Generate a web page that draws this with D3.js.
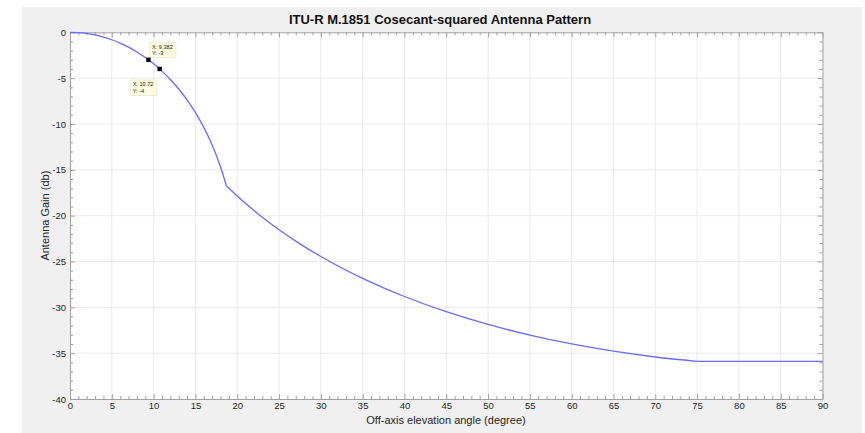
<!DOCTYPE html>
<html>
<head>
<meta charset="utf-8">
<script src="https://cdn.jsdelivr.net/npm/d3@7"></script>
<style>
  html, body { margin: 0; padding: 0; background: #ffffff; }
  svg { display: block; font-family: "Liberation Sans", Arial, sans-serif; }
</style>
</head>
<body>
<svg id="chart" width="865" height="433"></svg>
<script>
// ---- data ----
const mainLobeAngle = [0, 1, 2, 3, 4, 5, 6, 7, 8, 9, 10, 11, 12, 13, 14, 15, 16, 17, 18, 18.7];
const mainLobeGain  = [0, -0.032, -0.128, -0.290, -0.518, -0.814, -1.181, -1.622, -2.142, -2.745,
                       -3.441, -4.237, -5.146, -6.185, -7.377, -8.755, -10.367, -12.294, -14.671, -16.737];
const cscAngle = [18.7, 20, 22.5, 25, 27.5, 30, 32.5, 35, 37.5, 40, 45, 50, 55, 60, 65, 70, 75];
const cscGain  = [-16.737, -17.860, -19.811, -21.535, -23.074, -24.456, -25.706, -26.841, -27.875,
                  -28.820, -30.477, -31.867, -33.032, -33.999, -34.789, -35.417, -35.895];
const floorAngle = [75, 90];
const floorGain  = [-35.895, -35.895];
const tipX = [9.382, 10.72];
const tipY = [-3, -4];
const xTicks = [0, 5, 10, 15, 20, 25, 30, 35, 40, 45, 50, 55, 60, 65, 70, 75, 80, 85, 90];
const yTicks = [0, -5, -10, -15, -20, -25, -30, -35, -40];
const titleText = "ITU-R M.1851 Cosecant-squared Antenna Pattern";
const xLabel = "Off-axis elevation angle (degree)";
const yLabel = "Antenna Gain (db)";

// ---- layout ----
const svg = d3.select("#chart");
const L = 70, R = 822.5, T = 32.3, B = 399;

svg.append("rect").attr("x", 22).attr("y", 7).attr("width", 840).attr("height", 426).attr("fill", "#f0f0f0");

const x = d3.scaleLinear().domain([0, 90]).range([L, R]);
const y = d3.scaleLinear().domain([-40, 0]).range([B, T]);

svg.append("rect").attr("x", L).attr("y", T).attr("width", R - L).attr("height", B - T).attr("fill", "#ffffff");

// grid
const g = svg.append("g");
g.selectAll(".gx").data(xTicks.slice(1, -1)).join("line")
  .attr("x1", d => x(d)).attr("x2", d => x(d)).attr("y1", T).attr("y2", B)
  .attr("stroke", "#e6e6e6").attr("stroke-width", 0.8);
g.selectAll(".gy").data(yTicks.slice(1, -1)).join("line")
  .attr("y1", d => y(d)).attr("y2", d => y(d)).attr("x1", L).attr("x2", R)
  .attr("stroke", "#e6e6e6").attr("stroke-width", 0.8);

// axes (inward ticks on all four sides)
const minorX = d3.range(0, 91, 1).filter(d => d % 5 !== 0);
const minorY = d3.range(-40, 1, 1).filter(d => d % 5 !== 0);
const fmt = d => String(d);
function styleAxis(sel) {
  sel.select(".domain").attr("stroke", "#a0a0a0");
  sel.selectAll(".tick line").attr("stroke", "#a0a0a0");
  sel.selectAll("text").attr("fill", "#262626").attr("font-size", 9.5);
}
const axB = svg.append("g").attr("transform", `translate(0,${B})`)
  .call(d3.axisBottom(x).tickValues(xTicks).tickSizeInner(-5).tickSizeOuter(0).tickPadding(3).tickFormat(fmt));
styleAxis(axB);
axB.selectAll("text").attr("y", 3);
const axBm = svg.append("g").attr("transform", `translate(0,${B})`)
  .call(d3.axisBottom(x).tickValues(minorX).tickSize(-3).tickFormat(""));
axBm.select(".domain").remove(); axBm.selectAll(".tick line").attr("stroke", "#a0a0a0");

const axT = svg.append("g").attr("transform", `translate(0,${T})`)
  .call(d3.axisTop(x).tickValues(xTicks).tickSizeInner(-5).tickSizeOuter(0).tickFormat(""));
styleAxis(axT);
const axTm = svg.append("g").attr("transform", `translate(0,${T})`)
  .call(d3.axisTop(x).tickValues(minorX).tickSize(-3).tickFormat(""));
axTm.select(".domain").remove(); axTm.selectAll(".tick line").attr("stroke", "#a0a0a0");

const axL = svg.append("g").attr("transform", `translate(${L},0)`)
  .call(d3.axisLeft(y).tickValues(yTicks).tickSizeInner(-5).tickSizeOuter(0).tickPadding(4).tickFormat(fmt));
styleAxis(axL);
axL.selectAll("text").attr("x", -4).attr("dy", "0.32em");
const axLm = svg.append("g").attr("transform", `translate(${L},0)`)
  .call(d3.axisLeft(y).tickValues(minorY).tickSize(-3).tickFormat(""));
axLm.select(".domain").remove(); axLm.selectAll(".tick line").attr("stroke", "#a0a0a0");

const axR = svg.append("g").attr("transform", `translate(${R},0)`)
  .call(d3.axisRight(y).tickValues(yTicks).tickSizeInner(-5).tickSizeOuter(0).tickFormat(""));
styleAxis(axR);
const axRm = svg.append("g").attr("transform", `translate(${R},0)`)
  .call(d3.axisRight(y).tickValues(minorY).tickSize(-3).tickFormat(""));
axRm.select(".domain").remove(); axRm.selectAll(".tick line").attr("stroke", "#a0a0a0");

// curve
const lineCurve = d3.line().x(d => x(d[0])).y(d => y(d[1])).curve(d3.curveMonotoneX);
const lineLin = d3.line().x(d => x(d[0])).y(d => y(d[1]));
const lineColor = "#6a6aff";
svg.append("path").datum(d3.zip(mainLobeAngle, mainLobeGain)).attr("d", lineCurve)
  .attr("fill", "none").attr("stroke", lineColor).attr("stroke-width", 1.3);
svg.append("path").datum(d3.zip(cscAngle, cscGain)).attr("d", lineCurve)
  .attr("fill", "none").attr("stroke", lineColor).attr("stroke-width", 1.3);
svg.append("path").datum(d3.zip(floorAngle, floorGain)).attr("d", lineLin)
  .attr("fill", "none").attr("stroke", lineColor).attr("stroke-width", 1.3);

// data tips
const tipOffsets = [[1.5, -17.5], [-29, 11]];
tipX.forEach((tx, i) => {
  const px = x(tx), py = y(tipY[i]);
  const bx = px + tipOffsets[i][0], by = py + tipOffsets[i][1];
  svg.append("rect").attr("x", bx).attr("y", by).attr("width", 26).attr("height", 15.5)
    .attr("fill", "#fbfbe0").attr("stroke", "#e0e0c0").attr("stroke-width", 0.5);
  svg.append("text").attr("x", bx + 2).attr("y", by + 6.3).attr("font-size", 5.6).attr("fill", "#222")
    .text("X: " + tx);
  svg.append("text").attr("x", bx + 2).attr("y", by + 12.8).attr("font-size", 5.6).attr("fill", "#222")
    .text("Y: " + tipY[i]);
  svg.append("rect").attr("x", px - 2.2).attr("y", py - 2.2).attr("width", 4.4).attr("height", 4.4).attr("fill", "#000");
});

// labels
svg.append("text").attr("x", 440).attr("y", 24).attr("text-anchor", "middle")
  .attr("font-size", 13).attr("font-weight", "bold").attr("fill", "#111").text(titleText);
svg.append("text").attr("x", 446).attr("y", 424).attr("text-anchor", "middle")
  .attr("font-size", 11).attr("fill", "#262626").text(xLabel);
svg.append("text").attr("transform", `translate(49,${(T + B) / 2}) rotate(-90)`).attr("text-anchor", "middle")
  .attr("font-size", 11).attr("fill", "#262626").text(yLabel);
</script>
</body>
</html>
